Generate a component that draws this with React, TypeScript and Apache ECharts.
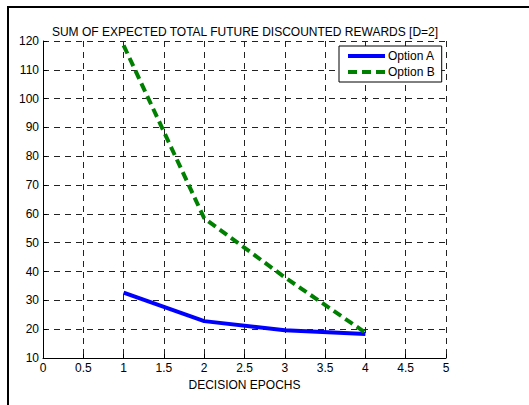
import React, { useEffect, useRef } from "react";
import * as echarts from "echarts";

const epochs = [1, 2, 3, 4];
const optionA = [32.7, 22.8, 19.6, 18.3];
const optionB = [118.5, 58.5, 38, 18.8];
const titleText = "SUM OF EXPECTED TOTAL FUTURE DISCOUNTED REWARDS [D=2]";
const xLabel = "DECISION EPOCHS";
const seriesNames = ["Option A", "Option B"];

export default function App() {
  const ref = useRef<HTMLDivElement>(null);
  useEffect(() => {
    document.body.style.margin = "0";
    const chart = echarts.init(ref.current!, null, { renderer: "svg" });
    const font = "Liberation Sans, Arial, sans-serif";
    const gridDash = { color: "#222", width: 1, type: [6, 5] as number[] };
    chart.setOption({
      animation: false,
      backgroundColor: "#fff",
      textStyle: { fontFamily: font },
      title: {
        text: titleText,
        left: 240,
        textAlign: "center",
        top: 21,
        textStyle: { fontSize: 12, fontWeight: "normal", color: "#000", fontFamily: font },
      },
      graphic: [
        {
          type: "rect",
          shape: { x: 8, y: 7, width: 600, height: 500 },
          style: { fill: "none", stroke: "#000", lineWidth: 2 },
          z: 100,
        },
      ],
      legend: {
        orient: "vertical",
        left: 339,
        top: 46,
        padding: [4, 7, 4, 7],
        itemGap: 4,
        itemWidth: 37,
        itemHeight: 13,
        borderColor: "#000",
        borderWidth: 1,
        backgroundColor: "#fff",
        itemStyle: { opacity: 0 },
        lineStyle: { width: 4 },
        textStyle: { fontSize: 12, color: "#000", fontFamily: font, padding: [0, 0, 0, -2] },
        data: seriesNames,
      },
      grid: { left: 43, right: 83, top: 41, bottom: 47, containLabel: false },
      xAxis: {
        type: "value",
        min: 0,
        max: 5,
        interval: 0.5,
        name: xLabel,
        nameLocation: "middle",
        nameGap: 21,
        nameTextStyle: { fontSize: 12, color: "#000", fontFamily: font },
        axisLine: { show: true, onZero: false, lineStyle: { color: "#000", width: 1 } },
        axisTick: { show: true, inside: true, length: 4, lineStyle: { color: "#000" } },
        axisLabel: { fontSize: 12, color: "#000", margin: 4, fontFamily: font },
        splitLine: { show: true, lineStyle: gridDash },
      },
      yAxis: {
        type: "value",
        min: 10,
        max: 120,
        interval: 10,
        axisLine: { show: true, onZero: false, lineStyle: { color: "#000", width: 1 } },
        axisTick: { show: true, inside: true, length: 4, lineStyle: { color: "#000" } },
        axisLabel: { fontSize: 12, color: "#000", margin: 4, fontFamily: font },
        splitLine: { show: true, lineStyle: gridDash },
      },
      series: [
        {
          name: seriesNames[0],
          type: "line",
          symbol: "none",
          data: epochs.map((x, i) => [x, optionA[i]]),
          lineStyle: { color: "#0000ff", width: 4 },
          itemStyle: { color: "#0000ff" },
          z: 3,
        },
        {
          name: seriesNames[1],
          type: "line",
          symbol: "none",
          data: epochs.map((x, i) => [x, optionB[i]]),
          lineStyle: { color: "#008000", width: 4, type: [9, 5] },
          itemStyle: { color: "#008000" },
          z: 4,
        },
      ],
    });
    return () => chart.dispose();
  }, []);
  return (
    <div
      ref={ref}
      style={{ position: "fixed", left: 0, top: 0, width: 529, height: 405 }}
    />
  );
}
